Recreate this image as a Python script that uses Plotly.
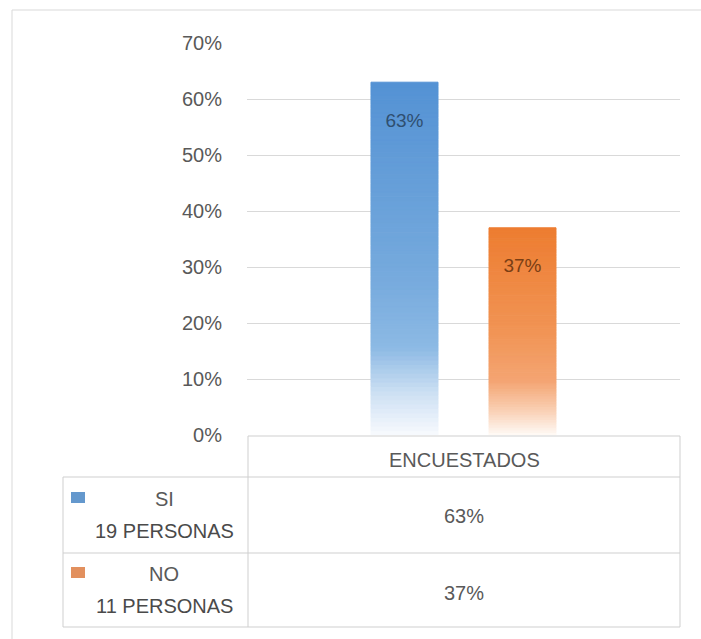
import plotly.graph_objects as go

# ---- data -------------------------------------------------------------
category = "ENCUESTADOS"
series_names = ["SI", "NO"]
series_counts = ["19 PERSONAS", "11 PERSONAS"]
series_values = [63, 37]          # percent
y_ticks = [0, 10, 20, 30, 40, 50, 60, 70]

# ---- styling ----------------------------------------------------------
W, H = 701, 639
M_L, M_R, M_T, M_B = 247, 21, 43, 204
PLOT_W = W - M_L - M_R
PLOT_H = H - M_T - M_B
FONT = "Liberation Sans"
FS = 20
TEXT = "#595959"
GRID = "#d9d9d9"
BORDER = "#cfcfcf"

# vertical gradient stops, top of bar (0) to its base (1)
gradients = {
    "SI": [(0.0, (84, 146, 212)), (0.55, (118, 170, 221)), (0.75, (140, 185, 228)),
           (0.88, (205, 224, 243)), (1.0, (248, 250, 254))],
    "NO": [(0.0, (237, 125, 49)), (0.5, (241, 148, 85)), (0.74, (244, 165, 115)),
           (0.88, (249, 208, 180)), (1.0, (255, 251, 247))],
}
label_colors = {"SI": "#2f4f70", "NO": "#7a3e14"}
swatch_colors = {"SI": "rgb(100,152,205)", "NO": "rgb(226,144,94)"}


def grad_color(stops, t):
    for (t0, c0), (t1, c1) in zip(stops[:-1], stops[1:]):
        if t0 <= t <= t1:
            f = (t - t0) / (t1 - t0) if t1 > t0 else 0
            r, g, b = (round(a + (bb - a) * f) for a, bb in zip(c0, c1))
            return f"rgb({r},{g},{b})"
    r, g, b = stops[-1][1]
    return f"rgb({r},{g},{b})"


def px(x):
    return (x - M_L) / PLOT_W


def py(y):
    return (H - M_B - y) / PLOT_H


fig = go.Figure()

# gradient bars built from thin stacked slices of each value
N = 80
for name, val in zip(series_names, series_values):
    stops = gradients[name]
    step = val / N
    for i in range(N):
        t = 1 - (i + 0.5) / N
        col = grad_color(stops, t)
        fig.add_trace(go.Bar(
            x=[category], y=[step], base=[step * i],
            offsetgroup=name, marker=dict(color=col, line=dict(color=col, width=1)),
            showlegend=False, hoverinfo="skip",
        ))
    # transparent full-height bar carrying the value label
    fig.add_trace(go.Bar(
        x=[category], y=[val], offsetgroup=name,
        marker=dict(color="rgba(0,0,0,0)", line=dict(width=0)),
        text=[f" <br>{val}%"], textposition="inside", insidetextanchor="end",
        textangle=0,
        textfont=dict(family=FONT, size=19, color=label_colors[name]),
        showlegend=False, hoverinfo="skip", cliponaxis=False,
    ))

shapes = []
line = dict(color=BORDER, width=1)
# outer chart frame (left and top edges)
shapes.append(dict(type="path", xref="paper", yref="paper",
                   path=f"M {px(12)},{py(639)} L {px(12)},{py(10)} L {px(701)},{py(10)}",
                   line=dict(color="#d9d9d9", width=1)))
# data table
x_l, x_m, x_r = px(63), px(248), px(680)
y_top, y_hdr, y_r1, y_bot = py(436), py(477), py(553), py(627)
shapes += [
    dict(type="line", xref="paper", yref="paper", x0=x_m, x1=x_r, y0=y_top, y1=y_top, line=line),
    dict(type="line", xref="paper", yref="paper", x0=x_l, x1=x_r, y0=y_hdr, y1=y_hdr, line=line),
    dict(type="line", xref="paper", yref="paper", x0=x_l, x1=x_r, y0=y_r1, y1=y_r1, line=line),
    dict(type="line", xref="paper", yref="paper", x0=x_l, x1=x_r, y0=y_bot, y1=y_bot, line=line),
    dict(type="line", xref="paper", yref="paper", x0=x_l, x1=x_l, y0=y_hdr, y1=y_bot, line=line),
    dict(type="line", xref="paper", yref="paper", x0=x_m, x1=x_m, y0=y_top, y1=y_bot, line=line),
    dict(type="line", xref="paper", yref="paper", x0=x_r, x1=x_r, y0=y_top, y1=y_bot, line=line),
]


def label(x, y, text, color=TEXT, size=FS):
    return dict(x=px(x), y=py(y), xref="paper", yref="paper", text=text,
                xanchor="center", yanchor="middle", showarrow=False,
                font=dict(family=FONT, size=size, color=color))


annotations = [label(464, 460, category)]
row_name_y = [499, 574]
row_count_y = [531, 606]
row_val_y = [516, 593]
swatch_y = [(492, 503), (567, 578)]
for i, (name, cnt, val) in enumerate(zip(series_names, series_counts, series_values)):
    annotations += [
        label(164, row_name_y[i], name),
        label(164, row_count_y[i], cnt, color="#4a4a4a"),
        label(464, row_val_y[i], f"{val}%"),
    ]
    y0, y1 = swatch_y[i]
    shapes.append(dict(type="rect", xref="paper", yref="paper",
                       x0=px(71), x1=px(85), y0=py(y1), y1=py(y0),
                       fillcolor=swatch_colors[name], line=dict(width=0)))

fig.update_layout(
    width=W, height=H,
    margin=dict(l=M_L, r=M_R, t=M_T, b=M_B, pad=0),
    paper_bgcolor="white", plot_bgcolor="white",
    barmode="group", bargap=0.455, bargroupgap=0.432,
    showlegend=False,
    uniformtext=dict(minsize=19, mode="show"),
    xaxis=dict(showticklabels=False, showgrid=False, zeroline=False, showline=False,
               fixedrange=True),
    yaxis=dict(range=[0, 70], tickvals=y_ticks, ticktext=[f"{v}%" for v in y_ticks],
               showgrid=True, gridcolor=GRID, gridwidth=1, zeroline=False, showline=False,
               ticks="", ticklabelstandoff=24,
               tickfont=dict(family=FONT, size=FS, color=TEXT), fixedrange=True),
    font=dict(family=FONT, color=TEXT),
    shapes=shapes, annotations=annotations,
)

fig.write_html("out.html")
